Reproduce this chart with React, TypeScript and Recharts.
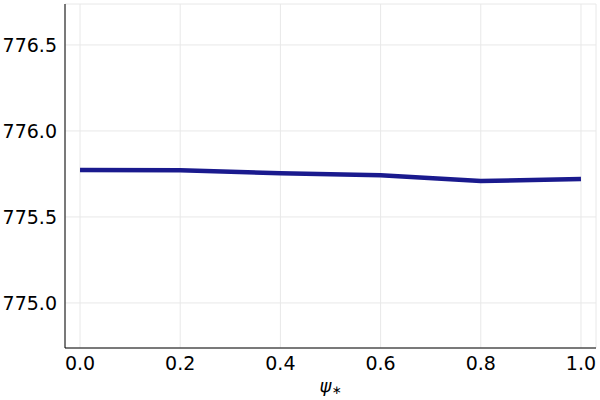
import { LineChart, Line, XAxis, YAxis, CartesianGrid, Label } from 'recharts';

const psi = [0.0, 0.2, 0.4, 0.6, 0.8, 1.0];
const values = [775.773, 775.772, 775.754, 775.743, 775.709, 775.721];
const xTicks = [0, 0.2, 0.4, 0.6, 0.8, 1.0];
const yTicks = [775.0, 775.5, 776.0, 776.5];

const font = "'DejaVu Sans', sans-serif";

function PsiLabel({ viewBox }: any) {
  const cx = viewBox.x + viewBox.width / 2;
  return (
    <text x={cx} y={392} textAnchor="middle" fontFamily={font} fontSize={18} fill="#000">
      <tspan fontStyle="italic">ψ</tspan>
      <tspan fontSize={12} dy={2}>∗</tspan>
    </text>
  );
}

export default function App() {
  const data = psi.map((x, i) => ({ x, y: values[i] }));

  return (
    <div style={{ position: 'fixed', left: 0, top: 0, width: 600, height: 400, background: '#fff' }}>
      <LineChart width={600} height={400} data={data} margin={{ top: 4, right: 4, left: 0, bottom: 0 }}>
        <CartesianGrid stroke="#e8e8e8" strokeWidth={1} />
        <XAxis
          dataKey="x"
          type="number"
          domain={[-0.03, 1.03]}
          ticks={xTicks}
          tickFormatter={(v: number) => v.toFixed(1)}
          height={52}
          axisLine={{ stroke: '#000', strokeWidth: 1 }}
          tickSize={0}
          tickMargin={9}
          tick={{ fill: '#000', fontSize: 19, fontFamily: font }}
        >
          <Label content={<PsiLabel />} />
        </XAxis>
        <YAxis
          type="number"
          domain={[774.738, 776.738]}
          ticks={yTicks}
          tickFormatter={(v: number) => v.toFixed(1)}
          width={65}
          axisLine={{ stroke: '#000', strokeWidth: 1 }}
          tickSize={0}
          tickMargin={8}
          tick={{ fill: '#000', fontSize: 19, fontFamily: font }}
        />
        <Line
          dataKey="y"
          stroke="#1a1a8e"
          strokeWidth={4.5}
          dot={false}
          isAnimationActive={false}
        />
      </LineChart>
    </div>
  );
}
